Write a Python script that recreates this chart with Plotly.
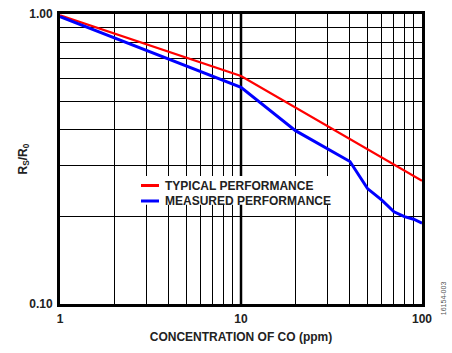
import plotly.graph_objects as go

conc_typ = [1, 10, 100]
rs_typ = [0.99, 0.611, 0.266]

conc_meas = [1, 10, 20, 30, 40, 50, 60, 70, 80, 90, 100]
rs_meas = [0.98, 0.559, 0.396, 0.344, 0.31, 0.25, 0.228, 0.208, 0.2, 0.196, 0.19]

x_grid = [1, 2, 3, 4, 5, 6, 7, 8, 9, 10, 20, 30, 40, 50, 60, 70, 80, 90, 100]
x_labels = {1: "1", 10: "10", 100: "100"}
y_grid = [0.1, 0.2, 0.3, 0.4, 0.5, 0.6, 0.7, 0.8, 0.9, 1.0]
y_labels = {0.1: "0.10", 1.0: "1.00"}

series_names = ["TYPICAL PERFORMANCE", "MEASURED PERFORMANCE"]
series_colors = ["#ff0000", "#0000ff"]
series_widths = [2.2, 3]

FONT = "Liberation Sans, Arial, sans-serif"
TXT = "#222"

fig = go.Figure()
fig.add_trace(go.Scatter(x=conc_typ, y=rs_typ, mode="lines", name=series_names[0],
                         line=dict(color=series_colors[0], width=series_widths[0])))
fig.add_trace(go.Scatter(x=conc_meas, y=rs_meas, mode="lines", name=series_names[1],
                         line=dict(color=series_colors[1], width=series_widths[1])))

fig.update_layout(
    width=452, height=353,
    margin=dict(l=60, r=30, t=14, b=49),
    paper_bgcolor="white", plot_bgcolor="white",
    font=dict(family=FONT, color=TXT, size=11),
    showlegend=False,
    xaxis=dict(type="log", range=[0, 2], automargin=False,
               tickvals=x_grid, ticktext=[x_labels.get(v, "") for v in x_grid],
               showgrid=True, gridcolor="black", gridwidth=1,
               showline=True, linecolor="black", linewidth=3, mirror=True,
               ticks="", ticklabelstandoff=2,
               tickfont=dict(family=FONT, size=12, color=TXT, weight="bold"),
               title=dict(text="CONCENTRATION OF CO (ppm)", standoff=8,
                          font=dict(family=FONT, size=12, color=TXT, weight="bold")),
               zeroline=False),
    yaxis=dict(type="log", range=[-1, 0], automargin=False,
               tickvals=y_grid, ticktext=[y_labels.get(v, "") for v in y_grid],
               showgrid=True, gridcolor="black", gridwidth=1,
               showline=True, linecolor="black", linewidth=3, mirror=True,
               ticks="", ticklabelstandoff=2,
               tickfont=dict(family=FONT, size=12, color=TXT, weight="bold"),
               title=dict(text="R<sub>S</sub>/R<sub>0</sub>", standoff=0,
                          font=dict(family=FONT, size=12, color=TXT, weight="bold")),
               zeroline=False),
)

# heavier decade gridline at 10 ppm
fig.add_shape(type="line", xref="x", yref="paper", x0=10, x1=10, y0=0, y1=1,
              line=dict(color="black", width=2.5), layer="below")

# legend: white box, line samples, labels
fig.add_shape(type="rect", xref="paper", yref="paper", x0=0.18, x1=0.76, y0=0.342, y1=0.441,
              fillcolor="white", line=dict(width=0), layer="above")
leg_y = [0.4086, 0.3552]
for name, col, w, yy in zip(series_names, series_colors, series_widths, leg_y):
    fig.add_shape(type="line", xref="paper", yref="paper", x0=0.2238, x1=0.2735, y0=yy, y1=yy,
                  line=dict(color=col, width=3), layer="above")
    fig.add_annotation(text=name, xref="paper", yref="paper", x=0.2845, y=yy,
                       xanchor="left", yanchor="middle", showarrow=False,
                       font=dict(family=FONT, size=12, color=TXT, weight="bold"))

fig.add_annotation(text="16154-003", xref="paper", yref="paper", x=1.058, y=0.02,
                   xanchor="center", yanchor="middle", textangle=-90, showarrow=False,
                   font=dict(family=FONT, size=7, color="#555"))

fig.write_html("out.html")
